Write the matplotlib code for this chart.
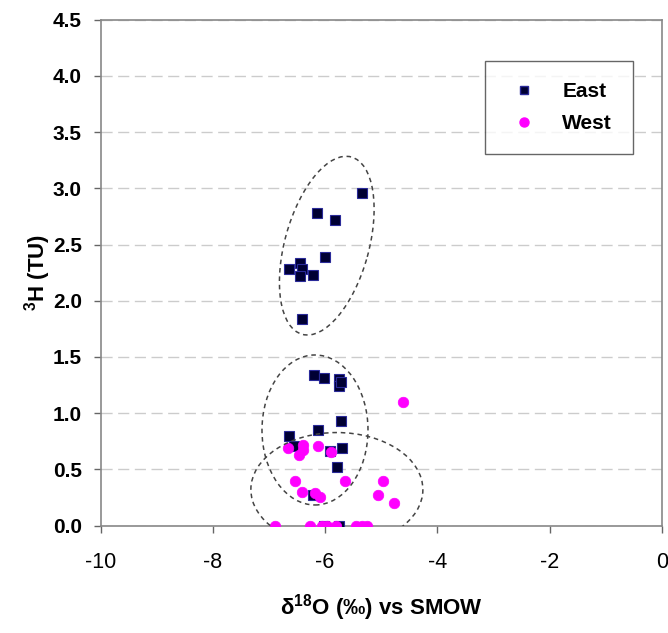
# -*- coding: utf-8 -*-

import numpy as np
import matplotlib
matplotlib.use("Agg")
import matplotlib.pyplot as plt
from matplotlib.patches import Ellipse
from matplotlib.lines import Line2D
from matplotlib.transforms import ScaledTranslation

plt.rcParams['font.family'] = ['Liberation Sans', 'DejaVu Sans']
plt.rcParams['mathtext.fontset'] = 'custom'
plt.rcParams['mathtext.rm'] = 'Liberation Sans'
plt.rcParams['mathtext.bf'] = 'Liberation Sans:bold'
plt.rcParams['mathtext.it'] = 'Liberation Sans:italic'
plt.rcParams['axes.unicode_minus'] = False

# 东侧样品 (d18O, 3H)
east_x = [-5.35, -6.14, -5.82, -6.00, -6.64, -6.44, -6.42, -6.44, -6.21, -6.41,
          -6.20, -6.02, -5.76, -5.75, -5.72, -5.72, -6.12, -6.64, -6.55, -5.70,
          -5.91, -5.78, -6.21, -6.02, -5.76]
east_y = [2.96, 2.78, 2.72, 2.39, 2.28, 2.34, 2.28, 2.22, 2.23, 1.84,
          1.34, 1.31, 1.30, 1.24, 1.28, 0.93, 0.85, 0.80, 0.71, 0.69,
          0.66, 0.52, 0.27, 0.00, 0.00]

# 西侧样品
west_x = [-6.66, -6.46, -6.40, -6.39, -6.12, -5.89, -6.54, -5.65, -4.97, -6.42,
          -6.18, -6.09, -5.06, -4.77, -6.89, -6.27, -6.06, -5.96, -5.81, -5.45,
          -5.35, -5.26, -4.62]
west_y = [0.69, 0.63, 0.72, 0.67, 0.71, 0.65, 0.40, 0.40, 0.40, 0.30,
          0.29, 0.25, 0.27, 0.20, 0.00, 0.00, 0.00, 0.00, 0.00, 0.00,
          0.00, 0.00, 1.10]

x_ticks = [-10, -8, -6, -4, -2, 0]
y_ticks = [0.0, 0.5, 1.0, 1.5, 2.0, 2.5, 3.0, 3.5, 4.0, 4.5]

# 分组椭圆：中心(数据坐标), 宽, 高(英寸), 角度
groups = [
    ((-5.97, 2.49), 1.84, 0.84, 74.5),
    ((-6.18, 0.85), 1.06, 1.50, 0.0),
    ((-5.79, 0.32), 1.72, 1.14, 0.0),
]

fig = plt.figure(figsize=(6.68, 6.33), dpi=100)
ax = fig.add_axes([0.1507, 0.1698, 0.8399, 0.799])

ax.plot(east_x, east_y, linestyle='none', marker='s', markersize=7.2,
        markerfacecolor='#000033', markeredgecolor='#2a2a99', markeredgewidth=0.8,
        zorder=3)
ax.plot(west_x, west_y, linestyle='none', marker='o', markersize=7.6,
        markerfacecolor='#ff00ff', markeredgecolor='#ff00ff', markeredgewidth=0.5,
        zorder=4)

for (cx, cy), w, h, ang in groups:
    tr = fig.dpi_scale_trans + ScaledTranslation(cx, cy, ax.transData)
    e = Ellipse((0, 0), w, h, angle=ang, transform=tr, fill=False,
                edgecolor='#444444', linestyle=(0, (3, 2.5)), linewidth=1.1,
                zorder=5)
    ax.add_patch(e)

ax.set_xlim(-10, 0)
ax.set_ylim(0, 4.5)
ax.set_xticks(x_ticks)
ax.set_yticks(y_ticks)
ax.set_yticklabels(['%.1f' % v for v in y_ticks])

ax.yaxis.grid(True, color='#cccccc', linestyle=(0, (8, 4)), linewidth=1.0)
ax.set_axisbelow(True)

for s in ax.spines.values():
    s.set_color('#888888')
    s.set_linewidth(1.2)

ax.tick_params(axis='both', direction='out', length=5, width=1, color='#666666')
ax.tick_params(axis='y', labelsize=15, pad=8.5)
ax.tick_params(axis='x', labelsize=15.5, pad=14)
for lab in ax.get_yticklabels():
    lab.set_fontweight('bold')

ax.set_xlabel('δ$^{\\mathbf{18}}$O (‰) vs SMOW', fontsize=16, fontweight='bold', labelpad=14)
ax.set_ylabel('$\\mathbf{^{3}H\\ (TU)}$', fontsize=16, labelpad=0)

handles = [
    Line2D([], [], linestyle='none', marker='s', markersize=6,
           markerfacecolor='#000033', markeredgecolor='#2a2a99'),
    Line2D([], [], linestyle='none', marker='o', markersize=6.5,
           markerfacecolor='#ff00ff', markeredgecolor='#ff00ff'),
]
leg = ax.legend(handles, ['East', 'West'], loc='upper left',
                bbox_to_anchor=(0.685, 0.918), fontsize=15, frameon=True,
                fancybox=False, borderpad=1.0, labelspacing=0.63,
                handlelength=1.75, handletextpad=0.96, borderaxespad=0)
leg.get_frame().set_edgecolor('#404040')
leg.get_frame().set_linewidth(1.0)
for t in leg.get_texts():
    t.set_fontweight('bold')

fig.savefig('out.png', dpi=100)
